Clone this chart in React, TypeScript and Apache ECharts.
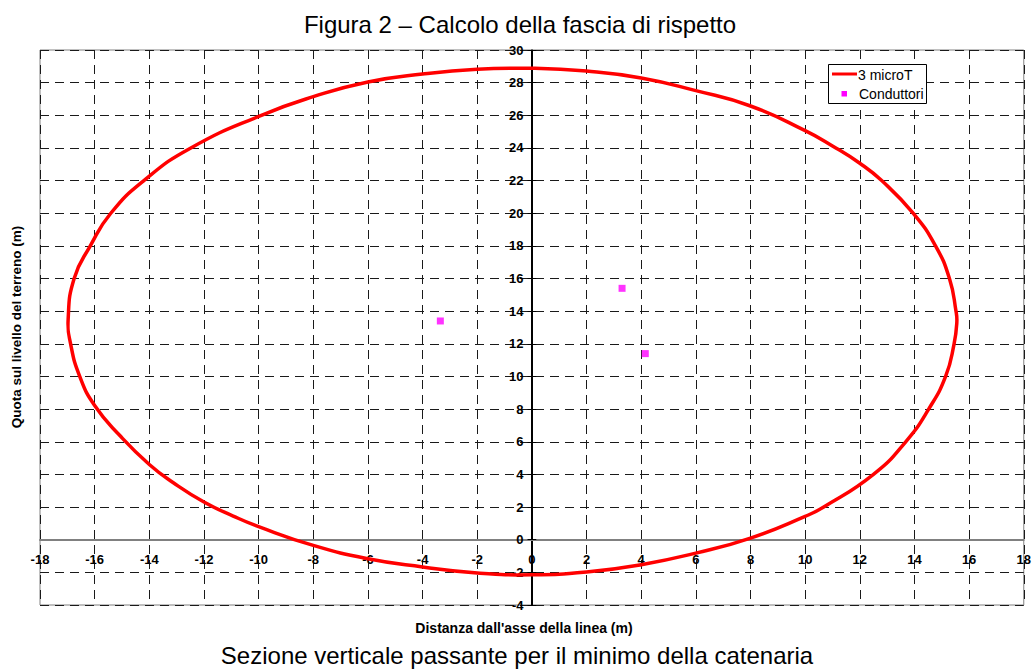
import React, { useEffect, useRef } from 'react';
import * as echarts from 'echarts';

// Curve "3 microT" (closed contour), clockwise from the top
const curveX = [-2, 0, 2, 4, 6, 8, 10, 11, 12, 12.8, 13.95, 14.77, 15.28, 15.52, 15.55, 15.45, 15.14, 14.52, 13.68, 12.5, 10.68, 10, 8, 6, 4, 2, 0, -2, -4, -6, -8, -10, -10.93, -12, -13.12, -14, -15.06, -16, -16.55, -16.88, -16.97, -16.75, -16.16, -15.41, -14.2, -12.48, -9.9, -8, -6, -4];
const curveY = [28.82, 28.88, 28.71, 28.29, 27.51, 26.57, 25.06, 24.12, 23.06, 22, 20, 18, 16, 14, 13.3, 12, 10, 8, 6, 4, 2, 1.43, 0.1, -0.82, -1.53, -1.98, -2.15, -2.04, -1.67, -1.17, -0.35, 0.8, 1.45, 2.31, 3.49, 4.61, 6.35, 8.22, 10.02, 12, 13.5, 16, 18, 20, 22, 24, 26, 27.14, 28.04, 28.53];

// Conductors
const conductorX = [-3.35, 3.3, 4.15];
const conductorY = [13.4, 15.4, 11.4];

const seriesNames = ['3 microT', 'Conduttori'];
const titleText = 'Figura 2 – Calcolo della fascia di rispetto';
const captionText = 'Sezione verticale passante per il minimo della catenaria';
const xName = "Distanza dall'asse della linea (m)";
const yName = 'Quota sul livello del terreno (m)';

const X_MIN = -18, X_MAX = 18, Y_MIN = -4, Y_MAX = 30, STEP = 2;

const FONT = '"Liberation Sans", Arial, sans-serif';

// layout of the plotting area (pixels)
const G_LEFT = 40, G_RIGHT = 9, G_TOP = 50, G_BOTTOM = 64, W = 1034, H = 669;

export default function App() {
  const ref = useRef<HTMLDivElement>(null);
  useEffect(() => {
    const chart = echarts.init(ref.current!, null, { renderer: 'svg' });
    const gw = W - G_LEFT - G_RIGHT;
    const gh = H - G_TOP - G_BOTTOM;
    // axes cross at the origin: shift axis lines and labels to x=0 / y=0
    const x0 = G_LEFT + ((0 - X_MIN) / (X_MAX - X_MIN)) * gw;
    const y0 = G_TOP + ((Y_MAX - 0) / (Y_MAX - Y_MIN)) * gh;
    const yOffLeft = G_LEFT - x0;
    const yOffRight = x0 - (G_LEFT + gw);
    const xOffBottom = y0 - (G_TOP + gh);

    const dashed = { show: true, lineStyle: { color: '#1a1a1a', type: [9, 6], width: 1 } };
    const tickLabel = { fontSize: 13, fontWeight: 'bold', color: '#000', fontFamily: FONT };
    const curveData = curveX.map((x, i) => [x, curveY[i]]);
    chart.setOption({
      animation: false,
      backgroundColor: '#fff',
      textStyle: { fontFamily: FONT },
      title: [
        { text: titleText, left: 515, top: 7, textAlign: 'center', textStyle: { fontSize: 24, fontWeight: 'normal', color: '#000', fontFamily: FONT } },
        { text: captionText, left: 512, top: 638, textAlign: 'center', textStyle: { fontSize: 24, fontWeight: 'normal', color: '#000', fontFamily: FONT } },
      ],
      grid: { left: G_LEFT, right: G_RIGHT, top: G_TOP, bottom: G_BOTTOM, show: true, borderColor: '#808080', borderWidth: 1, containLabel: false },
      xAxis: {
        type: 'value', min: X_MIN, max: X_MAX, interval: STEP, position: 'bottom', offset: xOffBottom,
        axisLine: { show: true, onZero: false, lineStyle: { color: '#808080', width: 2 } },
        axisTick: { show: false },
        axisLabel: { ...tickLabel, margin: 13 },
        splitLine: dashed,
      },
      yAxis: [
        {
          type: 'value', min: Y_MIN, max: Y_MAX, interval: STEP, position: 'left', offset: yOffLeft,
          axisLine: { show: true, onZero: false, lineStyle: { color: '#000', width: 1 } },
          axisTick: { show: true, length: 5, lineStyle: { color: '#000' } },
          axisLabel: { ...tickLabel, margin: 9 },
          splitLine: dashed,
        },
        {
          type: 'value', min: Y_MIN, max: Y_MAX, interval: STEP, position: 'right', offset: yOffRight,
          axisLine: { show: true, onZero: false, lineStyle: { color: '#000', width: 1 } },
          axisTick: { show: true, length: 5, lineStyle: { color: '#000' } },
          axisLabel: { show: false },
          splitLine: { show: false },
        },
      ],
      series: [
        {
          // closed smooth contour drawn through the cartesian coordinate system
          type: 'custom', name: seriesNames[0], yAxisIndex: 0,
          data: [0],
          renderItem: (_params: any, api: any) => ({
            type: 'polygon',
            shape: { points: curveData.map((p) => api.coord(p)), smooth: 0.5 },
            style: { fill: 'none', stroke: '#ff0000', lineWidth: 3.5, lineJoin: 'round' },
            silent: true,
          }),
          z: 3,
        },
        {
          type: 'scatter', name: seriesNames[1], yAxisIndex: 0,
          data: conductorX.map((x, i) => [x, conductorY[i]]),
          symbol: 'rect', symbolSize: 7,
          itemStyle: { color: '#ff00ff' },
          z: 4,
        },
      ],
      graphic: [
        { type: 'rect', shape: { x: 828.5, y: 64.5, width: 98, height: 39 }, style: { fill: '#fff', stroke: '#000', lineWidth: 1 }, z: 10 },
        { type: 'line', shape: { x1: 832, y1: 74, x2: 857, y2: 74 }, style: { stroke: '#ff0000', lineWidth: 3 }, z: 11 },
        { type: 'text', x: 858, y: 75, style: { text: seriesNames[0], font: `14px ${FONT}`, fill: '#000', align: 'left', verticalAlign: 'middle' }, z: 11 },
        { type: 'rect', shape: { x: 841.5, y: 91, width: 5.5, height: 5.5 }, style: { fill: '#ff00ff' }, z: 11 },
        { type: 'text', x: 859, y: 94, style: { text: seriesNames[1], font: `14px ${FONT}`, fill: '#000', align: 'left', verticalAlign: 'middle' }, z: 11 },
        { type: 'text', x: 524, y: 628, style: { text: xName, font: `bold 14px ${FONT}`, fill: '#000', align: 'center', verticalAlign: 'middle' } },
        { type: 'text', x: 16, y: 327, rotation: Math.PI / 2, style: { text: yName, font: `bold 13.5px ${FONT}`, fill: '#000', align: 'center', verticalAlign: 'middle' } },
      ],
    });
    return () => chart.dispose();
  }, []);
  return <div ref={ref} style={{ position: 'absolute', left: 0, top: 0, width: W, height: H, background: '#fff' }} />;
}
